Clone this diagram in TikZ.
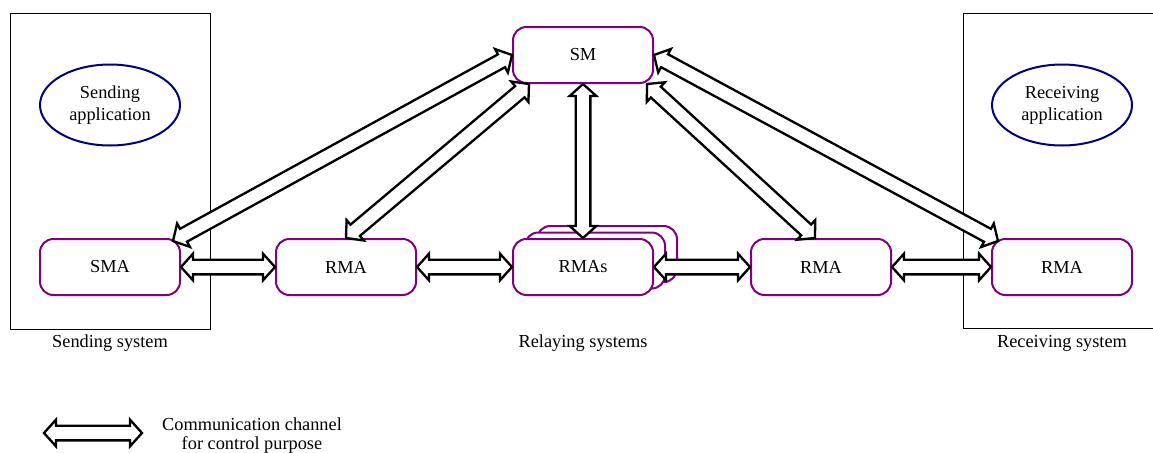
\documentclass[tikz,border=0pt]{standalone}
\usepackage{fontspec}
\setmainfont{Liberation Serif}
\usetikzlibrary{calc,shapes.geometric}
\definecolor{boxpurple}{RGB}{128,0,128}
\definecolor{appnavy}{RGB}{0,0,128}
\newcommand\chanhl{7.2pt}
\newcommand\chanhw{8pt}
\newcommand\chansw{4.4pt}
\newcommand\ctrlchan[2]{%
  \draw[chanline] (#1) -- ($(#1)!\chanhl!(#2)!\chanhw!90:(#2)$)
    -- ($(#1)!\chanhl!(#2)!\chansw!90:(#2)$) -- ($(#2)!\chanhl!(#1)!\chansw!-90:(#1)$)
    -- ($(#2)!\chanhl!(#1)!\chanhw!-90:(#1)$) -- (#2)
    -- ($(#2)!\chanhl!(#1)!\chanhw!90:(#1)$) -- ($(#2)!\chanhl!(#1)!\chansw!90:(#1)$)
    -- ($(#1)!\chanhl!(#2)!\chansw!-90:(#2)$) -- ($(#1)!\chanhl!(#2)!\chanhw!-90:(#2)$)
    -- cycle;}
\begin{document}
\begin{tikzpicture}[x=0.6pt,y=-0.6pt,font=\fontsize{11}{11.4}\selectfont,
    agent/.style={draw=boxpurple,line width=1.2pt,rounded corners=8pt,fill=white,
      minimum width=84pt,minimum height=33.6pt},
    app/.style={ellipse,draw=appnavy,line width=1.2pt,minimum width=84pt,
      minimum height=48.6pt,align=center,font=\fontsize{11}{13.2}\selectfont},
    chanline/.style={draw=black,fill=white,line width=1.4pt,line join=miter}]
    \useasboundingbox (0,0) rectangle (1153,452);
    \draw[line width=0.6pt] (10,13) rectangle (210,329);
    \draw[line width=0.6pt] (963,13) rectangle (1175,328);

    \node[app] (sapp) at (110,105) {Sending\\application};
    \node[app] (rapp) at (1062,105) {Receiving\\application};

    \node[agent] (sma) at (110,267) {SMA};
    \node[agent] (rmaA) at (346,267) {RMA};
    \node[agent] (rmaSc) at (607,254) {};
    \node[agent] (rmaSb) at (595,260.5) {};
    \node[agent] (rmaS) at (583,267) {RMAs};
    \node[agent] (rmaB) at (821,267) {RMA};
    \node[agent] (rmaC) at (1062,267) {RMA};
    \node[agent] (sm) at (583,55) {SM};

    \node (sendsys) at (110,343) {Sending system};
    \node (relaysys) at (583,343) {Relaying systems};
    \node (recvsys) at (1062,343) {Receiving system};

    \coordinate (smaTip) at ([shift={(-8,3)}]sma.north east);
    \coordinate (smLeft) at ([shift={(17,0)}]sm.south west);
    \coordinate (smRight) at ([shift={(-7,0)}]sm.south east);
    \coordinate (rmaBTip) at ([shift={(-6,0)}]rmaB.north);
    \coordinate (rmaCTip) at ([shift={(7,3)}]rmaC.north west);

    \foreach \a/\b in {sma.east/rmaA.west,rmaA.east/rmaS.west,rmaS.east/rmaB.west,rmaB.east/rmaC.west}
        \ctrlchan{\a}{\b};
    \ctrlchan{smaTip}{sm.west}
    \ctrlchan{rmaA.north}{smLeft}
    \ctrlchan{sm.south}{rmaS.north}
    \ctrlchan{smRight}{rmaBTip}
    \ctrlchan{sm.east}{rmaCTip}

    \coordinate (legL) at (44,433);
    \coordinate (legR) at (142,433);
    \ctrlchan{legL}{legR}
    \node[align=center] (legtext) at (252,436) {Communication channel\\for control purpose};
\end{tikzpicture}
\end{document}
